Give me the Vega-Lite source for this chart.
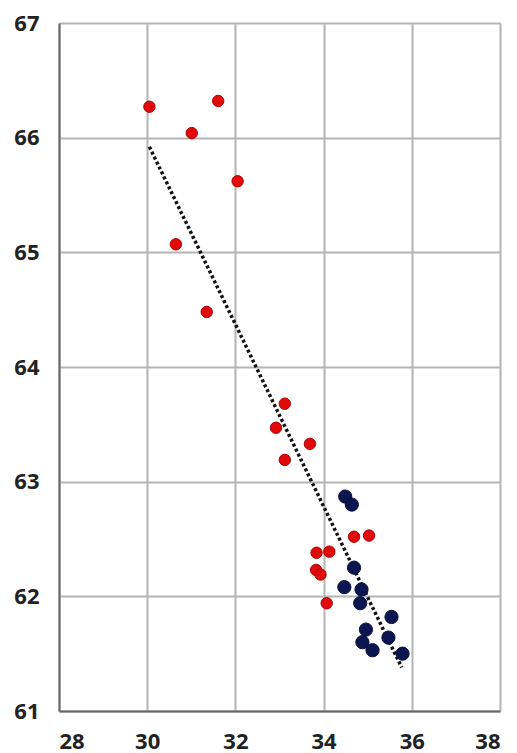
{
  "$schema": "https://vega.github.io/schema/vega-lite/v6.json",
  "width": 441,
  "height": 688,
  "autosize": {"type": "none"},
  "padding": {"left": 59, "top": 23, "right": 17, "bottom": 42},
  "background": "white",
  "config": {
    "view": {"stroke": null},
    "axis": {
      "labelFont": "Open Sans",
      "labelFontWeight": "bold",
      "labelFontSize": 22,
      "labelColor": "#222222",
      "gridColor": "#b4b4b4",
      "gridWidth": 2,
      "domainColor": "#666666",
      "domainWidth": 2,
      "ticks": false,
      "title": null
    }
  },
  "datasets": {
    "pts": [
      {"x": 30.05, "y": 66.27, "g": "red"},
      {"x": 31.61, "y": 66.32, "g": "red"},
      {"x": 31.01, "y": 66.04, "g": "red"},
      {"x": 32.05, "y": 65.62, "g": "red"},
      {"x": 30.65, "y": 65.07, "g": "red"},
      {"x": 31.35, "y": 64.48, "g": "red"},
      {"x": 33.12, "y": 63.68, "g": "red"},
      {"x": 32.92, "y": 63.47, "g": "red"},
      {"x": 33.69, "y": 63.33, "g": "red"},
      {"x": 33.12, "y": 63.19, "g": "red"},
      {"x": 34.69, "y": 62.52, "g": "red"},
      {"x": 35.03, "y": 62.53, "g": "red"},
      {"x": 33.84, "y": 62.38, "g": "red"},
      {"x": 34.13, "y": 62.39, "g": "red"},
      {"x": 33.83, "y": 62.23, "g": "red"},
      {"x": 33.93, "y": 62.19, "g": "red"},
      {"x": 34.07, "y": 61.94, "g": "red"},
      {"x": 34.49, "y": 62.87, "g": "blue"},
      {"x": 34.64, "y": 62.80, "g": "blue"},
      {"x": 34.69, "y": 62.25, "g": "blue"},
      {"x": 34.47, "y": 62.08, "g": "blue"},
      {"x": 34.86, "y": 62.06, "g": "blue"},
      {"x": 34.83, "y": 61.94, "g": "blue"},
      {"x": 35.54, "y": 61.82, "g": "blue"},
      {"x": 34.96, "y": 61.71, "g": "blue"},
      {"x": 35.47, "y": 61.64, "g": "blue"},
      {"x": 34.88, "y": 61.60, "g": "blue"},
      {"x": 35.11, "y": 61.53, "g": "blue"},
      {"x": 35.79, "y": 61.50, "g": "blue"}
    ],
    "trend": [
      {"x": 30.05, "y": 65.92},
      {"x": 35.77, "y": 61.38}
    ]
  },
  "layer": [
    {
      "data": {"name": "trend"},
      "mark": {"type": "line", "color": "#111111", "strokeWidth": 3.5, "strokeDash": [3, 2.5], "strokeCap": "butt"},
      "encoding": {
        "x": {"field": "x", "type": "quantitative", "scale": {"domain": [28, 38], "nice": false, "zero": false},
          "axis": {"values": [28, 30, 32, 34, 36, 38], "labelPadding": 20, "format": "d", "gridWidth": 2}},
        "y": {"field": "y", "type": "quantitative", "scale": {"domain": [61, 67], "nice": false, "zero": false},
          "axis": {"values": [61, 62, 63, 64, 65, 66, 67], "labelPadding": 20, "format": "d"}}
      }
    },
    {
      "data": {"name": "pts"},
      "mark": {"type": "circle", "opacity": 1, "strokeWidth": 1},
      "encoding": {
        "x": {"field": "x", "type": "quantitative"},
        "y": {"field": "y", "type": "quantitative"},
        "color": {"field": "g", "type": "nominal", "scale": {"domain": ["red", "blue"], "range": ["#e00a0a", "#0b1650"]}, "legend": null},
        "stroke": {"field": "g", "type": "nominal", "scale": {"domain": ["red", "blue"], "range": ["#b00000", "#081040"]}, "legend": null},
        "size": {"field": "g", "type": "nominal", "scale": {"domain": ["red", "blue"], "range": [130, 175]}, "legend": null}
      }
    }
  ]
}
